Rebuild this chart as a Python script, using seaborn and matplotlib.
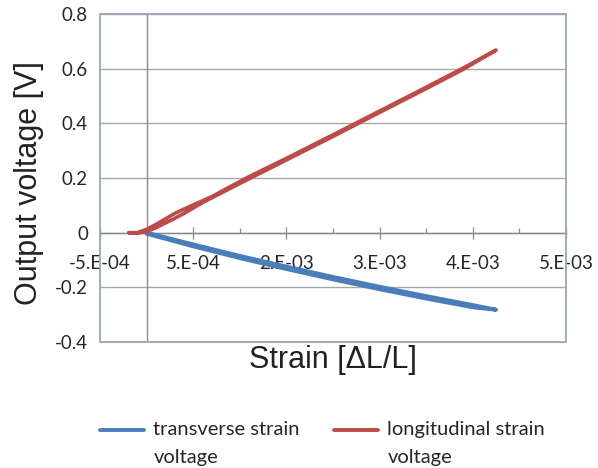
import numpy as np
import pandas as pd
import matplotlib
matplotlib.use("Agg")
import matplotlib.pyplot as plt
from matplotlib.patches import Rectangle
from matplotlib.lines import Line2D
from matplotlib.legend_handler import HandlerLine2D
import seaborn as sns

# ---- data ----
long_strain = [-0.00019, -0.0001, 0.0, 0.0001, 0.0002, 0.0003, 0.0004, 0.0007, 0.00107, 0.0015,
               0.002, 0.0025, 0.003, 0.0034, 0.00375,
               0.0034, 0.003, 0.0025, 0.002, 0.0015, 0.001, 0.0006, 0.0004, 0.0003, 0.0002,
               0.0001, 0.0, -0.0001, -0.00019]
long_volt = [0.0, 0.0, 0.012, 0.03, 0.05, 0.07, 0.086, 0.132, 0.2, 0.272,
             0.358, 0.445, 0.532, 0.603, 0.668,
             0.598, 0.527, 0.44, 0.352, 0.266, 0.18, 0.11, 0.07, 0.052, 0.035,
             0.018, 0.004, -0.002, 0.0]

trans_strain = [0.0, 0.0005, 0.001, 0.0015, 0.002, 0.0025, 0.003, 0.0035, 0.00375,
                0.0035, 0.003, 0.0025, 0.002, 0.0015, 0.001, 0.0005, 0.0]
trans_volt = [0.0, -0.043, -0.085, -0.124, -0.162, -0.198, -0.232, -0.265, -0.282,
              -0.273, -0.241, -0.207, -0.171, -0.133, -0.093, -0.05, -0.004]

series_labels = ["transverse strain\nvoltage", "longitudinal strain\nvoltage"]
series_colors = ["#4a7ebb", "#be4b48"]

x_major_ticks = [-0.0005, 0.0005, 0.0015, 0.0025, 0.0035, 0.0045]
x_minor_ticks = [0.0, 0.001, 0.002, 0.003, 0.004]
x_tick_labels = ["-5.E-04", "5.E-04", "2.E-03", "3.E-03", "4.E-03", "5.E-03"]
y_ticks = [0.8, 0.6, 0.4, 0.2, 0.0, -0.2, -0.4]
y_tick_labels = ["0.8", "0.6", "0.4", "0.2", "0", "-0.2", "-0.4"]

x_title = "Strain [\u0394L/L]"
y_title = "Output voltage [V]"

# ---- style ----
sns.set_theme(style="white")
plt.rcParams["font.family"] = ["Lato", "DejaVu Sans"]

W, H = 598, 468
fig = plt.figure(figsize=(W / 100, H / 100), dpi=100)
L, R, T, B = 100, 566, 14, 342
ax = fig.add_axes([L / W, 1 - B / H, (R - L) / W, (B - T) / H])
ax.set_facecolor("white")

df_t = pd.DataFrame({"strain": trans_strain, "volt": trans_volt})
df_l = pd.DataFrame({"strain": long_strain, "volt": long_volt})

grid_col = "#a8a8a8"
for yv in y_ticks:
    ax.axhline(yv, color=grid_col, lw=1.0, zorder=0)
ax.axvline(0, color="#8c8c8c", lw=1.0, zorder=0.5)

sns.lineplot(data=df_t, x="strain", y="volt", sort=False, estimator=None,
             color=series_colors[0], lw=2.8, ax=ax, zorder=3)
sns.lineplot(data=df_l, x="strain", y="volt", sort=False, estimator=None,
             color=series_colors[1], lw=2.6, ax=ax, zorder=3)

ax.set_xlim(-0.0005, 0.0045)
ax.set_ylim(-0.4, 0.8)

# spines: bottom spine at y=0, others hidden, border drawn as a rectangle
for s in ["left", "right", "top"]:
    ax.spines[s].set_visible(False)
ax.spines["bottom"].set_position(("data", 0))
ax.spines["bottom"].set_color("#8c8c8c")
ax.spines["bottom"].set_linewidth(1.0)
ax.add_patch(Rectangle((0, 0), 1, 1, transform=ax.transAxes, fill=False,
                       edgecolor="#9aa6ba", lw=1.3, zorder=4, clip_on=False))

ax.set_xticks(x_major_ticks)
ax.set_xticklabels(x_tick_labels)
ax.set_xticks(x_minor_ticks, minor=True)
ax.tick_params(axis="x", which="major", direction="inout", length=8.5, width=0.9,
               color="#8c8c8c", pad=11.5, labelsize=13.5, labelcolor="#262626", bottom=True)
ax.tick_params(axis="x", which="minor", direction="in", length=3.6, width=0.9,
               color="#8c8c8c", bottom=True)

ax.set_yticks(y_ticks)
ax.set_yticklabels(y_tick_labels)
ax.tick_params(axis="y", which="major", length=0, pad=8.6, labelsize=13.5,
               labelcolor="#262626", left=True)

ax.set_xlabel(x_title, fontsize=22, family=["Liberation Sans", "DejaVu Sans"],
              color="#222222")
ax.xaxis.set_label_coords(0.5, -0.01)
ax.xaxis.label.set_va("top")
ax.set_ylabel(y_title, fontsize=22, family=["Liberation Sans", "DejaVu Sans"],
              color="#222222")
ax.yaxis.set_label_coords(-0.12, 0.485)


class FirstLineHandler(HandlerLine2D):
    """Place the legend line level with the first text line."""
    def __init__(self, shift=0.0, **kw):
        super().__init__(**kw)
        self.shift = shift

    def create_artists(self, legend, orig_handle, xdescent, ydescent, width, height,
                       fontsize, trans):
        return super().create_artists(legend, orig_handle, xdescent,
                                      ydescent - self.shift * fontsize, width, height,
                                      fontsize, trans)


handles = [Line2D([], [], color=c, lw=2.8) for c in series_colors]
leg = fig.legend(handles, series_labels, loc="upper left",
                 bbox_to_anchor=(100 / W, 1 - 421 / H), ncol=2, frameon=False,
                 fontsize=14.5, handlelength=2.2, handletextpad=0.45, columnspacing=1.7,
                 borderpad=0, borderaxespad=0, labelcolor="#262626",
                 handler_map={Line2D: FirstLineHandler(shift=1.3)})
for t in leg.get_texts():
    t.set_linespacing(1.75)

fig.savefig("out.png", dpi=100, facecolor="white")
